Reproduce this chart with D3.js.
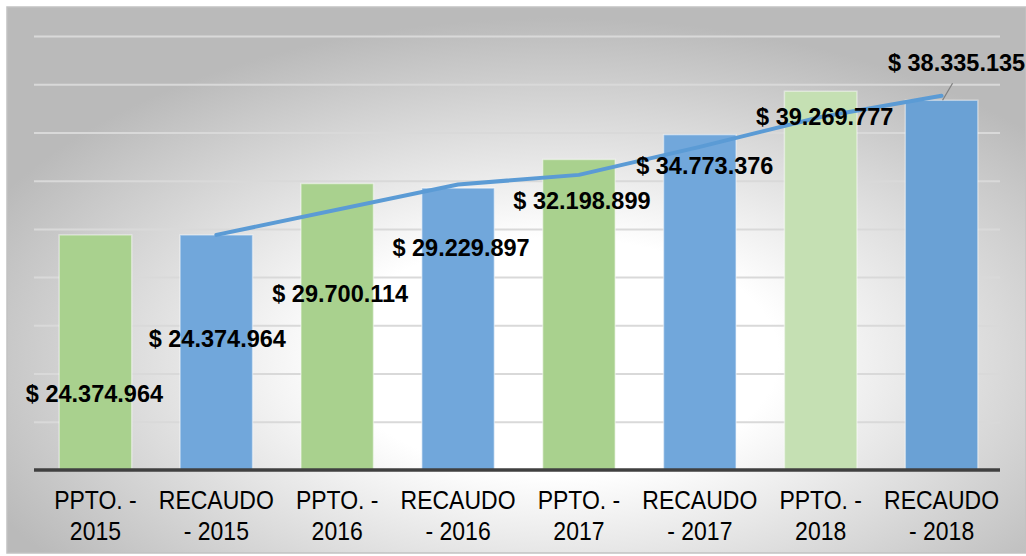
<!DOCTYPE html>
<html>
<head>
<meta charset="utf-8">
<script src="https://cdn.jsdelivr.net/npm/d3@7"></script>
<style>
  html, body { margin: 0; padding: 0; background: #ffffff; }
  svg { display: block; }
  text { font-family: "Liberation Sans", Arial, sans-serif; }
</style>
</head>
<body>
<svg id="chart" width="1026" height="556"></svg>
<script>
// Categories (two-line axis labels)
const categories = [
  ["PPTO. -", "2015"], ["RECAUDO", "- 2015"],
  ["PPTO. -", "2016"], ["RECAUDO", "- 2016"],
  ["PPTO. -", "2017"], ["RECAUDO", "- 2017"],
  ["PPTO. -", "2018"], ["RECAUDO", "- 2018"]
];
// Budget / collected amounts (pesos)
const values = [24374964, 24374964, 29700114, 29229897, 32198899, 34773376, 39269777, 38335135];
// Trend line through the collected series (null = no point)
const trend = [null, 24374964, null, 29600000, 30600000, 33500000, 36600000, 38800000];
// Value axis ticks (gridlines)
const yTicks = [5e6, 10e6, 15e6, 20e6, 25e6, 30e6, 35e6, 40e6, 45e6];

// Styling
const barColors = ["#a9d18e", "#71a7db", "#a9d18e", "#71a7db", "#a9d18e", "#71a7db", "#c5e0b3", "#6aa1d5"];
// Label placement relative to the bar top (dx, dy to baseline)
const labelOffsets = [[-1, 167], [1, 112], [3, 118], [3, 68], [3, 50], [5, 39], [4, 34], [15, -29]];

const svg = d3.select("#chart");
const W = 1026, H = 556;

const defs = svg.append("defs");
const grad = defs.append("radialGradient")
  .attr("id", "bg")
  .attr("cx", "0.54").attr("cy", "0.64").attr("r", "0.62")
  .attr("fx", "0.54").attr("fy", "0.64");
grad.append("stop").attr("offset", "0").attr("stop-color", "#ffffff");
grad.append("stop").attr("offset", "0.35").attr("stop-color", "#ffffff");
grad.append("stop").attr("offset", "1").attr("stop-color", "#bababa");

// Chart area background
svg.append("rect")
  .attr("x", 7).attr("y", 7).attr("width", W - 7).attr("height", 546)
  .attr("fill", "url(#bg)")
  .attr("stroke", "#c2c2c2").attr("stroke-width", 1.5);

const x = d3.scaleBand()
  .domain(d3.range(categories.length))
  .range([35, 1002])
  .paddingInner(0.4)
  .paddingOuter(0.2);

const y = d3.scaleLinear().domain([0, 45e6]).range([470, 36]);

// Gridlines
const grid = svg.append("g")
  .attr("transform", "translate(34,0)")
  .call(d3.axisLeft(y).tickValues(yTicks).tickSize(-(1000 - 34)).tickFormat(""));
grid.select(".domain").remove();
grid.selectAll(".tick line").attr("stroke", "#d9d9d9").attr("stroke-width", 2);

// Bars
svg.append("g").selectAll("rect")
  .data(values)
  .join("rect")
  .attr("x", (d, i) => x(i))
  .attr("y", d => y(d))
  .attr("width", x.bandwidth())
  .attr("height", d => y(0) - y(d))
  .attr("fill", (d, i) => barColors[i])
  .attr("stroke", "rgba(255,255,255,0.45)")
  .attr("stroke-width", 1.5);

// Category axis
const xAxis = svg.append("g")
  .attr("transform", `translate(0,${y(0)})`)
  .call(d3.axisBottom(x).tickSize(0).tickFormat(""));
xAxis.select(".domain")
  .attr("d", `M34,0H1000`)
  .attr("stroke", "#404040").attr("stroke-width", 3.5);

const catLabels = svg.append("g").selectAll("text")
  .data(categories)
  .join("text")
  .attr("transform", (d, i) => `translate(${x(i) + x.bandwidth() / 2},509) scale(0.92,1)`)
  .attr("text-anchor", "middle")
  .attr("font-size", 25)
  .attr("fill", "#000");
catLabels.append("tspan").attr("x", 0).attr("y", 0).text(d => d[0]);
catLabels.append("tspan").attr("x", 0).attr("y", 31).text(d => d[1]);

// Trend line
const trendPts = trend.map((v, i) => [i, v]).filter(p => p[1] != null);
svg.append("path")
  .datum(trendPts)
  .attr("d", d3.line().x(p => x(p[0]) + x.bandwidth() / 2).y(p => y(p[1])))
  .attr("fill", "none")
  .attr("stroke", "#5b9bd5")
  .attr("stroke-width", 4)
  .attr("stroke-linecap", "round")
  .attr("stroke-linejoin", "round");

// Leader line for the last label
const lastI = values.length - 1;
svg.append("line")
  .attr("x1", x(lastI) + x.bandwidth() / 2 + 1)
  .attr("y1", y(values[lastI]))
  .attr("x2", x(lastI) + x.bandwidth() / 2 + 11)
  .attr("y2", y(values[lastI]) - 17)
  .attr("stroke", "#7f7f7f").attr("stroke-width", 1.2);

// Value labels
const fmt = v => "$ " + d3.format(",")(v).replace(/,/g, ".");
svg.append("g").selectAll("text")
  .data(values)
  .join("text")
  .attr("transform", (d, i) =>
    `translate(${x(i) + x.bandwidth() / 2 + labelOffsets[i][0]},${y(d) + labelOffsets[i][1]}) scale(0.98,1)`)
  .attr("text-anchor", "middle")
  .attr("font-size", 24)
  .attr("font-weight", "bold")
  .attr("fill", "#000")
  .text(d => fmt(d));
</script>
</body>
</html>
